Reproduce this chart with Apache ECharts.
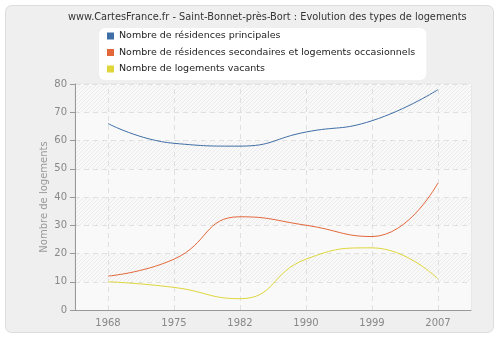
<!DOCTYPE html>
<html><head><meta charset="utf-8">
<script src="https://cdn.jsdelivr.net/npm/echarts@6/dist/echarts.min.js"></script>
<style>html,body{margin:0;padding:0;background:#fff}#c{width:500px;height:340px}</style>
</head><body><div id="c"></div>
<script>
var years = ['1968','1975','1982','1990','1999','2007'];
var principales = [66, 59, 58, 63, 67, 78];
var secondaires = [12, 18, 33, 30, 26, 45];
var vacants = [10, 8, 4, 18, 22, 11];
var seriesNames = ['Nombre de résidences principales','Nombre de résidences secondaires et logements occasionnels','Nombre de logements vacants'];
var colors = ['#3f6ea6','#e4673a','#e0d63a'];

var pc = document.createElement('canvas');
pc.width = 4; pc.height = 4;
var g = pc.getContext('2d');
var img = g.createImageData(4, 4);
for (var yy = 0; yy < 4; yy++) for (var xx = 0; xx < 4; xx++) {
  var on = ((xx + yy) % 4) === 0;
  var v = on ? 234 : 249;
  var k = (yy * 4 + xx) * 4;
  img.data[k] = v; img.data[k+1] = v; img.data[k+2] = v; img.data[k+3] = 255;
}
g.putImageData(img, 0, 0);
var pattern = {image: pc, repeat: 'repeat'};

var chart = echarts.init(document.getElementById('c'), null, {renderer:'canvas'});
var font = 'DejaVu Sans';
function mk(i, data, extra) {
  var s = {name: seriesNames[i], type: 'line', data: data, smooth: 0.5, showSymbol: false, symbol: 'none',
    lineStyle: {width: 1, color: colors[i]}, itemStyle: {color: colors[i]}, z: 3};
  if (extra) s.markLine = extra;
  return s;
}
chart.setOption({
  animation: false,
  textStyle: {fontFamily: font},
  graphic: [{
    type: 'rect', z: -10, silent: true,
    shape: {x: 5.5, y: 5.5, width: 488, height: 327, r: 6},
    style: {fill: '#efefef', stroke: '#dcdcdc', lineWidth: 1}
  }],
  title: {
    text: 'www.CartesFrance.fr - Saint-Bonnet-près-Bort : Evolution des types de logements',
    left: 68, top: 12, padding: 0,
    textStyle: {fontSize: 9.8, fontWeight: 'normal', color: '#333', fontFamily: font}
  },
  legend: {
    orient: 'vertical', left: 99, top: 28,
    backgroundColor: '#fff', borderRadius: 6,
    padding: [2, 11, 5, 8],
    itemWidth: 7, itemHeight: 7, itemGap: 4.5, icon: 'rect',
    textStyle: {fontSize: 9.5, lineHeight: 12, color: '#222', fontFamily: font},
    data: seriesNames
  },
  grid: {left: 75, right: 29, top: 84, bottom: 30, show: true, backgroundColor: '#f9f9f9', borderColor: '#e2e2e2', borderWidth: 1},
  xAxis: {
    type: 'category', data: years, boundaryGap: true,
    axisLine: {lineStyle: {color: '#999'}},
    axisTick: {alignWithLabel: true, length: 5, lineStyle: {color: '#999'}},
    axisLabel: {color: '#888', fontSize: 10, margin: 8, fontFamily: font},
    splitLine: {show: false}
  },
  yAxis: {
    type: 'value', min: 0, max: 80, interval: 10,
    name: 'Nombre de logements', nameLocation: 'middle', nameGap: 26, nameMoveOverlap: false,
    nameTextStyle: {color: '#999', fontSize: 10, fontFamily: font},
    axisLine: {show: true, lineStyle: {color: '#999'}},
    axisTick: {show: true, length: 5, lineStyle: {color: '#999'}},
    axisLabel: {color: '#888', fontSize: 10, margin: 8, fontFamily: font},
    splitLine: {lineStyle: {color: '#e0e0e0', type: [5,4]}},
    splitArea: {show: true, areaStyle: {color: ['#f9f9f9', pattern]}}
  },
  series: [
    mk(0, principales, {
      silent: true, symbol: 'none', z: 1, label: {show: false},
      lineStyle: {color: '#e0e0e0', type: [5,4], width: 1},
      data: years.map(function (y) { return {xAxis: y}; })
    }),
    mk(1, secondaires),
    mk(2, vacants)
  ]
});
</script></body></html>
